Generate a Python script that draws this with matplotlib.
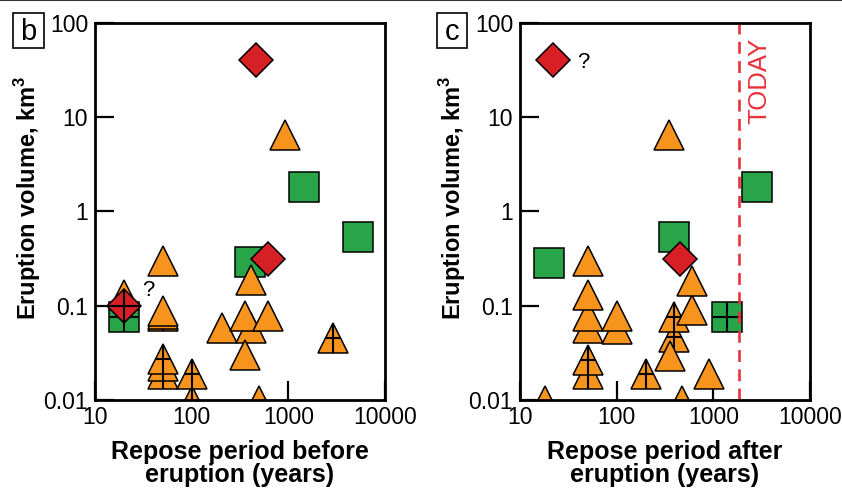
import matplotlib
matplotlib.use("Agg")
import matplotlib.pyplot as plt
from matplotlib.path import Path
from matplotlib.patches import Rectangle
from matplotlib.lines import Line2D
from matplotlib.ticker import NullLocator, FixedLocator, FixedFormatter

plt.rcParams['font.family'] = ['Liberation Sans', 'DejaVu Sans']
plt.rcParams['mathtext.fontset'] = 'custom'
plt.rcParams['mathtext.rm'] = 'Liberation Sans'
plt.rcParams['mathtext.bf'] = 'Liberation Sans:bold'

# ---------------- data ----------------
# Panel b: repose period before eruption
b_sq_x = [20, 400, 1450, 5200]
b_sq_y = [0.076, 0.29, 1.8, 0.54]
b_sq_cross = [True, False, False, False]

b_tri_x = [20, 50, 50, 50, 50, 50, 50, 50, 100, 100, 205, 415, 355, 620, 355, 410, 500, 920, 2900]
b_tri_y = [0.13, 0.077, 0.082, 0.088, 0.30, 0.019, 0.023, 0.027, 0.0097, 0.019,
           0.058, 0.058, 0.078, 0.078, 0.030, 0.187, 0.0098, 6.4, 0.045]
b_tri_cross = [False, True, False, False, False, True, True, True, True, True,
               False, False, False, False, False, False, False, False, True]

b_dia_x = [460, 610, 20]
b_dia_y = [40, 0.31, 0.10]
b_dia_cross = [False, False, True]

# Panel c: repose period after eruption
c_sq_x = [20, 395, 2850, 1390]
c_sq_y = [0.285, 0.53, 1.8, 0.076]
c_sq_cross = [False, False, False, True]

c_tri_x = [18, 50, 50, 50, 50, 50, 50, 100, 100, 200, 350, 395, 390, 355, 600, 600, 900, 477]
c_tri_y = [0.0098, 0.019, 0.0266, 0.058, 0.077, 0.13, 0.30, 0.057, 0.077, 0.019,
           6.4, 0.046, 0.076, 0.0296, 0.089, 0.184, 0.019, 0.0098]
c_tri_cross = [False, True, True, False, False, False, False, False, False, True,
               False, True, True, False, False, False, False, False]

c_dia_x = [22, 450]
c_dia_y = [40, 0.31]
c_dia_cross = [False, False]

today_x = 1850

x_ticks = [10, 100, 1000, 10000]
x_ticklabels = ['10', '100', '1000', '10000']
y_ticks = [0.01, 0.1, 1, 10, 100]
y_ticklabels = ['0.01', '0.1', '1', '10', '100']

# ---------------- style ----------------
ORANGE = '#F7941D'
GREEN = '#27A548'
RED = '#D71F26'
TODAY_RED = '#E8323C'

DPI = 100
fig = plt.figure(figsize=(8.42, 4.88), dpi=DPI)

tri_cross = Path([(0, -1), (0, 1), (-0.5, 0), (0.5, 0)],
                 [Path.MOVETO, Path.LINETO, Path.MOVETO, Path.LINETO])

TRI_MS = 21.6
SQ_MS = 21
DIA_MS = 17.8
EDGE = 1.1
CROSS_LW = 1.5


def draw_group(ax, xs, ys, crosses, marker, ms, color, cross_marker, cross_ms, z):
    # draw point by point so that a later marker hides earlier crosses
    for i, (x, y, c) in enumerate(zip(xs, ys, crosses)):
        zi = z + i * 0.01
        ax.plot([x], [y], ls='none', marker=marker, ms=ms, mfc=color, mec='black',
                mew=EDGE, zorder=zi)
        if c:
            ax.plot([x], [y], ls='none', marker=cross_marker, ms=cross_ms,
                    mec='black', mew=CROSS_LW, zorder=zi + 0.005)


def setup_axes(rect, xlabel):
    ax = fig.add_axes(rect)
    ax.set_xscale('log')
    ax.set_yscale('log')
    ax.set_xlim(10, 10000)
    ax.set_ylim(0.01, 100)
    ax.xaxis.set_major_locator(FixedLocator(x_ticks))
    ax.xaxis.set_major_formatter(FixedFormatter(x_ticklabels))
    ax.yaxis.set_major_locator(FixedLocator(y_ticks))
    ax.yaxis.set_major_formatter(FixedFormatter(y_ticklabels))
    ax.xaxis.set_minor_locator(NullLocator())
    ax.yaxis.set_minor_locator(NullLocator())
    ax.tick_params(axis='both', which='major', direction='in', length=14,
                   width=1.6, labelsize=16.5, top=False, right=False)
    ax.tick_params(axis='y', pad=5)
    ax.tick_params(axis='x', pad=4)
    for s in ax.spines.values():
        s.set_linewidth(2.0)
        s.set_zorder(10)
    ax.set_ylabel(r'Eruption volume, km$^\mathbf{3}$', fontsize=17, fontweight='bold')
    ax.yaxis.set_label_coords(-0.18, 0.535)
    ax.set_xlabel(xlabel, fontsize=18, fontweight='bold', linespacing=0.95)
    ax.xaxis.set_label_coords(0.5, -0.105)
    ax.xaxis.label.set_va('top')
    return ax


axb = setup_axes([95 / 842, 1 - 400 / 488, 290 / 842, 377.3 / 488],
                 'Repose period before\neruption (years)')
axc = setup_axes([520 / 842, 1 - 400 / 488, 290 / 842, 377.3 / 488],
                 'Repose period after\neruption (years)')

# panel b
draw_group(axb, b_sq_x, b_sq_y, b_sq_cross, 's', SQ_MS, GREEN, '+', SQ_MS, 3)
draw_group(axb, b_tri_x, b_tri_y, b_tri_cross, '^', TRI_MS, ORANGE, tri_cross, TRI_MS, 4)
draw_group(axb, b_dia_x, b_dia_y, b_dia_cross, 'D', DIA_MS, RED, '+', DIA_MS * 1.414, 5)

# panel c
draw_group(axc, c_sq_x, c_sq_y, c_sq_cross, 's', SQ_MS, GREEN, '+', SQ_MS, 3)
draw_group(axc, c_tri_x, c_tri_y, c_tri_cross, '^', TRI_MS, ORANGE, tri_cross, TRI_MS, 4)
draw_group(axc, c_dia_x, c_dia_y, c_dia_cross, 'D', DIA_MS, RED, '+', DIA_MS * 1.414, 5)
axc.axvline(today_x, color=TODAY_RED, lw=1.9, ls=(0, (4.5, 2.8)), zorder=6)
axc.text(3000, 69, 'TODAY', color=TODAY_RED, fontsize=18.5, rotation=90,
         ha='center', va='top')

# "?" labels (positions in pixels converted to figure fraction)
fig.text(148 / 842, 1 - 290 / 488, '?', fontsize=16, ha='center', va='center')
fig.text(583 / 842, 1 - 62 / 488, '?', fontsize=16, ha='center', va='center')

# panel letters in boxes
for x0, letter in [(13, 'b'), (437, 'c')]:
    fig.patches.append(Rectangle((x0 / 842, 1 - 47.5 / 488), 30.5 / 842, 35 / 488,
                                 transform=fig.transFigure, fill=False,
                                 edgecolor='black', lw=1.2))
    fig.text((x0 + 15.25) / 842, 1 - 40 / 488, letter, fontsize=21,
             ha='center', va='baseline')

# thin rule across the top of the figure
fig.add_artist(Line2D([0, 1], [0.999, 0.999], transform=fig.transFigure,
                      color='#333333', lw=1.5))

fig.savefig('out.png', dpi=DPI)
